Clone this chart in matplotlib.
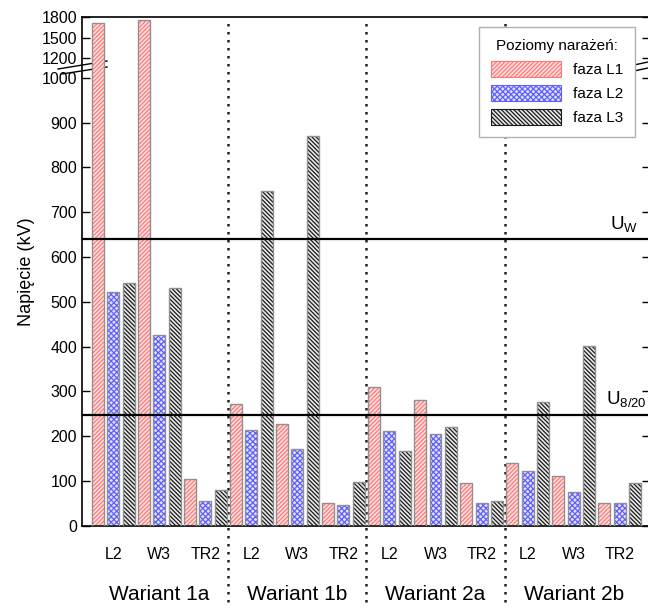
import numpy as np
import matplotlib
matplotlib.use("Agg")
import matplotlib.pyplot as plt
from matplotlib.patches import Patch
import matplotlib.transforms as mtransforms

plt.rcParams['font.family'] = ['Liberation Sans', 'DejaVu Sans']
plt.rcParams['hatch.linewidth'] = 0.9

# data
warianty = ['Wariant 1a', 'Wariant 1b', 'Wariant 2a', 'Wariant 2b']
obiekty = ['L2', 'W3', 'TR2']
faza_L1 = [1710, 1750, 105, 273, 227, 50, 311, 280, 95, 141, 111, 50]
faza_L2 = [521, 426, 56, 214, 171, 47, 212, 205, 50, 122, 76, 50]
faza_L3 = [543, 530, 80, 748, 870, 97, 168, 221, 56, 277, 401, 96]
U_w = 640
U_820 = 247
y_ticks = [0, 100, 200, 300, 400, 500, 600, 700, 800, 900, 1000, 1200, 1500, 1800]

# broken y axis: compressed above 1000
yp = [-1000, 0, 1000, 1200, 1500, 1800, 3000]
ym = [-1000, 0, 1000, 1045.1, 1089.7, 1136.6, 1324.2]
def fwd(y):
    return np.interp(y, yp, ym)
def inv(y):
    return np.interp(y, ym, yp)

fig = plt.figure(figsize=(6.48, 6.08), dpi=100)
W, H = 648., 608.
ax = fig.add_axes([82/W, 1-525.9/H, (650-82)/W, (525.9-16.7)/H])
ax.set_yscale('function', functions=(fwd, inv))

styles = [
    (faza_L1, '#ffe0e0', '#ff7878', '////////', 'faza L1'),
    (faza_L2, '#e0e0ff', '#6060ff', 'xxxxxx', 'faza L2'),
    (faza_L3, '#e8e8e8', '#1a1a1a', '\\\\\\\\\\\\\\\\', 'faza L3'),
]
n = len(faza_L1)
base = np.arange(n) * 3
handles = []
for p, (vals, fc, hc, hatch, lab) in enumerate(styles):
    x = base + p
    ax.bar(x, vals, width=0.78, color=fc, edgecolor=hc, hatch=hatch, linewidth=0, zorder=2)
    ax.bar(x, vals, width=0.78, fill=False, edgecolor='#909090', linewidth=1.0, zorder=3)
    handles.append(Patch(facecolor=fc, edgecolor=hc, hatch=hatch, linewidth=0.8, label=lab))

ax.set_xlim(-1.04, 35.98)
ax.set_ylim(0, 1800)
ax.set_yticks(y_ticks)
ax.set_yticklabels([str(t) for t in y_ticks], fontsize=11.5)
ax.tick_params(axis='y', direction='in', length=5.5, right=True, width=1)
ax.set_xticks(base + 1)
ax.set_xticklabels(obiekty * 4, fontsize=11.5)
ax.tick_params(axis='x', length=0, pad=15)
ax.set_ylabel('Napięcie (kV)', fontsize=13, labelpad=5)
for s in ax.spines.values():
    s.set_linewidth(1.2)

# threshold lines
ax.axhline(U_w, color='black', lw=1.6, zorder=4)
ax.axhline(U_820, color='black', lw=1.6, zorder=4)
ax.text(35.2, U_w + 12, r'$\mathregular{U_W}$', ha='right', va='bottom', fontsize=13.5)
ax.text(35.75, U_820 + 14, r'$\mathregular{U_{8/20}}$', ha='right', va='bottom', fontsize=13.5)

# group separators and group names
trans = mtransforms.blended_transform_factory(ax.transData, ax.transAxes)
for g in range(1, 4):
    ax.plot([g*9 - 0.5]*2, [-0.149, 0.9935], transform=trans, color='#222222',
            ls=(0, (1, 2.2)), lw=1.8, clip_on=False, zorder=1)
for g, name in enumerate(warianty):
    ax.text(g*9 + 4, -0.1357, name, transform=trans, ha='center', va='center', fontsize=15)

# break marks
ft = fig.transFigure
for (x0, y0, x1, y1) in [(58, 69, 107, 61), (62, 74, 107, 67), (634, 65, 648, 62), (634, 71, 648, 68)]:
    ax.plot([x0/W, x1/W], [1-y0/H, 1-y1/H], transform=ft, color='black', lw=1.0, clip_on=False, zorder=1)

leg = ax.legend(handles=handles, title='Poziomy narażeń:', loc='upper right',
                bbox_to_anchor=((635-82)/568, (525.9-27)/509.2), borderaxespad=0,
                fontsize=11, title_fontsize=11, fancybox=False, edgecolor='#b0b0b0',
                handlelength=4.6, handleheight=1.25, handletextpad=0.75, labelspacing=0.5,
                framealpha=1, borderpad=0.8)
leg.get_frame().set_linewidth(1.0)
leg.set_zorder(5)

fig.savefig('out.png', dpi=100)
